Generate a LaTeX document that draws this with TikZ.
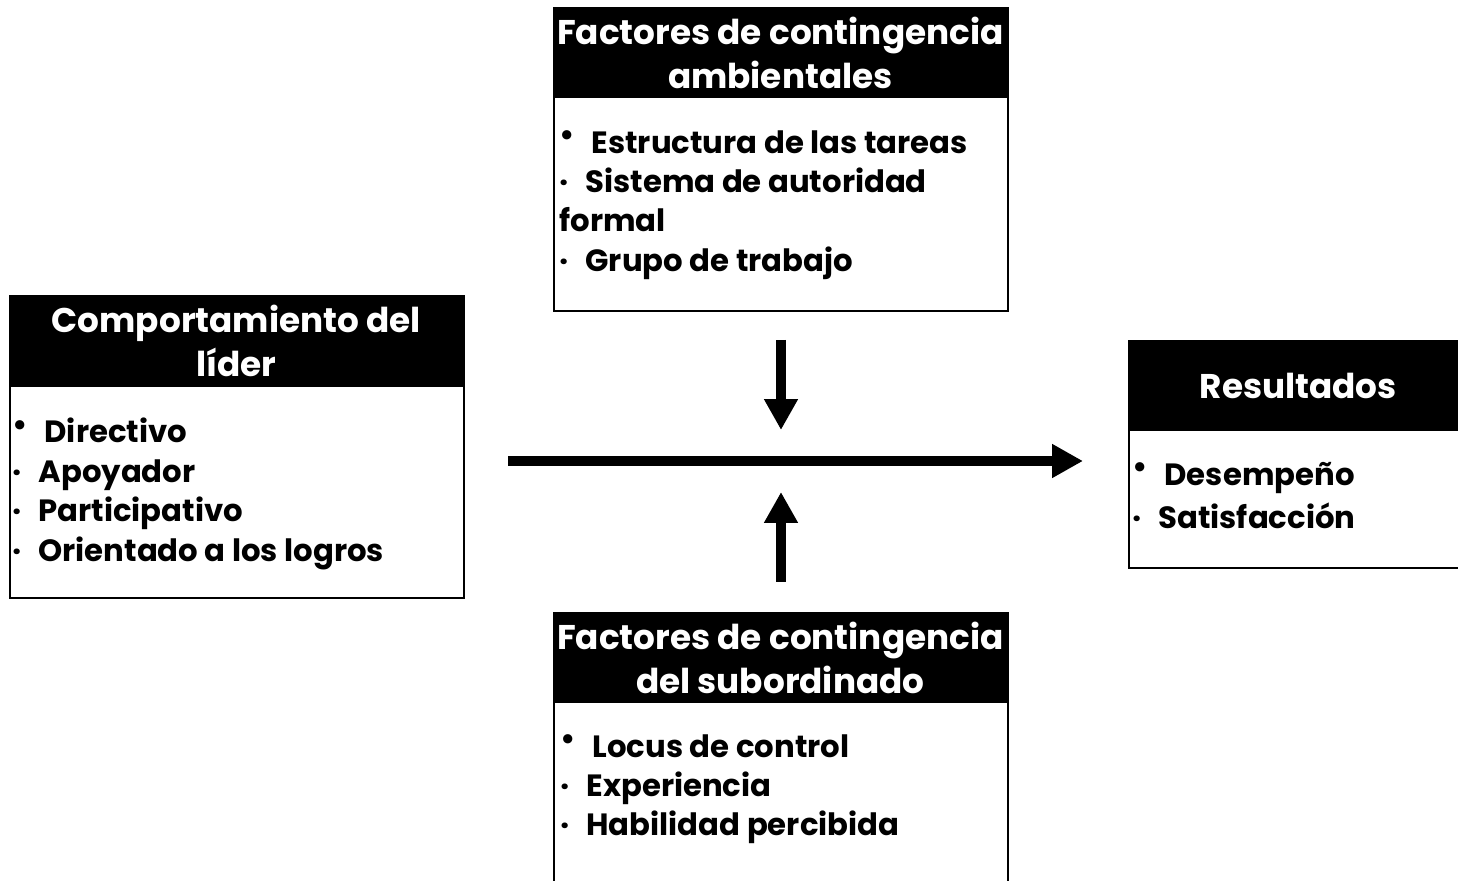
\documentclass[tikz,border=0pt]{standalone}
\usepackage{fontspec}
\setmainfont{Poppins}
\usetikzlibrary{arrows.meta,positioning}

\newcommand\firstpt{\makebox[1.05em][l]{\raisebox{0.25em}{•}}}
\newcommand\dotpt{\makebox[0.85em][l]{·}}

\tikzset{
  box/.style={draw=black,line width=1.1pt,anchor=north west,inner sep=0pt},
  head/.style={fill=black,text=white,anchor=north west,inner sep=0pt,align=center,
    font=\bfseries\fontsize{19.5}{25}\selectfont},
  items/.style={anchor=north west,align=left,inner sep=0pt,
    font=\bfseries\fontsize{17.5}{22.4}\selectfont},
  flow/.style={line width=5.7pt,-{Triangle[length=0.62cm,width=0.64cm]}},
}

\begin{document}
\begin{tikzpicture}[x=0.02cm,y=-0.02cm]
  \clip (0,0) rectangle (1458,881);

  % leader behaviour
  \node[box,minimum width=9.08cm,minimum height=6.04cm] (lider) at (9,295) {};
  \node[head,minimum width=9.08cm,minimum height=1.84cm] (liderhead) at (lider.north west) {Comportamiento del\\líder};
  \node[items] (lideritems) at (12,418) {\firstpt Directivo\\ \dotpt Apoyador\\ \dotpt Participativo\\ \dotpt Orientado a los logros};

  % environmental factors
  \node[box,minimum width=9.08cm,minimum height=6.06cm] (amb) at (553,7) {};
  \node[head,minimum width=9.08cm,minimum height=1.82cm] (ambhead) at (amb.north west) {Factores de contingencia\\ambientales};
  \node[items] (ambitems) at (559,130) {\firstpt Estructura de las tareas\\ \dotpt Sistema de autoridad\\formal\\ \dotpt Grupo de trabajo};

  % outcomes
  \node[box,minimum width=6.8cm,minimum height=4.54cm] (res) at (1128,340) {};
  \node[head,minimum width=6.8cm,minimum height=1.82cm] (reshead) at (res.north west) {Resultados};
  \node[items] (resitems) at (1132,462) {\firstpt Desempeño\\[2pt] \dotpt Satisfacción};

  % subordinate factors
  \node[box,minimum width=9.08cm,minimum height=6cm] (sub) at (553,612) {};
  \node[head,minimum width=9.08cm,minimum height=1.82cm] (subhead) at (sub.north west) {Factores de contingencia\\del subordinado};
  \node[items] (subitems) at (560,734) {\firstpt Locus de control\\ \dotpt Experiencia\\ \dotpt Habilidad percibida};

  % arrows
  \coordinate (start) at (508,461);
  \coordinate (goal) at (1083,461);
  \coordinate (downtop) at (781,340);
  \coordinate (downtip) at (781,430);
  \coordinate (upbot) at (781,582);
  \coordinate (uptip) at (781,492);
  \draw[flow] (start) -- (goal);
  \draw[flow] (downtop) -- (downtip);
  \draw[flow] (upbot) -- (uptip);
\end{tikzpicture}
\end{document}
